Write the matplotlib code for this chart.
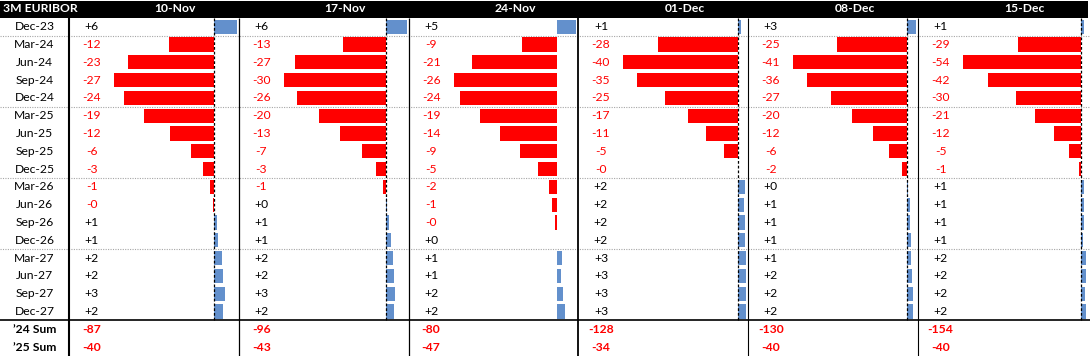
#!/usr/bin/env python3
"""
Weekly change in the 3M EURIBOR strip (bp), drawn like an Excel table with
data bars: one label column, then one panel per date with the number on the
left and the bar on the right. Saves out.png.
"""
import matplotlib
matplotlib.use("Agg")
import matplotlib.pyplot as plt

# --- data -------------------------------------------------------------------
contracts = ["Dec-23", "Mar-24", "Jun-24", "Sep-24", "Dec-24",
             "Mar-25", "Jun-25", "Sep-25", "Dec-25",
             "Mar-26", "Jun-26", "Sep-26", "Dec-26",
             "Mar-27", "Jun-27", "Sep-27", "Dec-27"]

dates = ["10-Nov", "17-Nov", "24-Nov", "01-Dec", "08-Dec", "15-Dec"]

# change in bp per contract (decimals)
chg_10nov = [6, -12.2, -23.2, -27, -24.3, -18.9, -11.9, -6.4, -3.0,
             -1.1, -0.3, 0.8, 0.9, 1.9, 2.2, 2.7, 2.2]
chg_17nov = [6, -12.6, -26.6, -30, -26.2, -19.8, -13.4, -7.0, -2.9,
             -0.9, 0.4, 0.9, 1.4, 2.0, 2.3, 2.6, 2.3]
chg_24nov = [5, -8.8, -21.4, -26, -24.4, -19.4, -14.2, -9.2, -4.8,
             -1.8, -1.2, -0.3, 0.2, 1.4, 1.2, 1.6, 2.2]
chg_01dec = [0.8, -28, -40, -35.4, -25.4, -17.4, -11.4, -5.1, -0.1,
             2.2, 1.8, 2.4, 2.4, 2.6, 2.6, 2.7, 2.7]
chg_08dec = [3.2, -25.4, -41, -36, -27.4, -20, -12.4, -6.4, -1.8,
             0.3, 1.1, 1.1, 1.4, 1.4, 1.6, 2.1, 2.1]
chg_15dec = [1.4, -28.8, -54, -42.4, -30, -20.9, -12.4, -5.4, -0.9,
             1.4, 1.4, 1.4, 0.7, 2.1, 2.0, 1.6, 2.0]

sum_labels = ["\u201924 Sum", "\u201925 Sum"]
sum_24 = [-87, -96, -80, -128, -130, -154]
sum_25 = [-40, -43, -47, -34, -40, -40]

# --- layout (pixels) --------------------------------------------------------
W, H = 1090, 356
LABEL_W = 69          # width of the contract column
PANEL_W = 169.8       # one date panel
NUM_W = 45            # number cell inside a panel, bar cell is the rest
N_ROWS = len(contracts)
RED = "#FF0000"
BLUE = "#6390CC"
FONT = ["Lato", "DejaVu Sans"]
FS = 8.7

# row units: header sits at -1, contracts at 0..16, sums at 17, 18
Y_TOP, Y_BOT = -1.5, N_ROWS + 1.5


def draw_panel(fig, ax0, k, values, show_axis=True):
    left = LABEL_W + k * PANEL_W
    bar_l = left + NUM_W
    bar_r = left + PANEL_W - 2

    # data bars: own axes so each panel scales to its own min/max like Excel
    ax = fig.add_axes([bar_l / W, 0, (bar_r - bar_l) / W, 1])
    ax.set_xlim(min(values), max(values))
    ax.set_ylim(Y_BOT, Y_TOP)
    ax.axis("off")
    cols = [RED if v < 0 else BLUE for v in values]
    ax.barh(range(N_ROWS), values, height=0.8, color=cols, linewidth=0)
    if show_axis:
        ax.vlines(0, -0.5, N_ROWS - 0.5, colors="black", lw=0.9,
                  linestyles=(0, (2.2, 1.6)), zorder=3)

    # numbers, centred in the number cell
    xc = left + NUM_W / 2
    for i, v in enumerate(values):
        ax0.text(xc, i, f"{v:+.0f}", ha="center", va="center",
                 color=RED if v < 0 else "black", fontsize=FS, family=FONT)
    for j, s in enumerate((sum_24[k], sum_25[k])):
        ax0.text(xc, N_ROWS + j, f"{s:+d}", ha="center", va="center",
                 color=RED, fontsize=FS, fontweight="bold", family=FONT)

    # header title over the bar cell
    ax0.text((bar_l + bar_r) / 2, -1, dates[k], ha="center", va="center",
             color="white", fontsize=FS, fontweight="bold", family=FONT)


def main():
    fig = plt.figure(figsize=(W / 100, H / 100), dpi=100)
    ax0 = fig.add_axes([0, 0, 1, 1])
    ax0.set_xlim(0, W)
    ax0.set_ylim(Y_BOT, Y_TOP)
    ax0.axis("off")

    # header band
    ax0.fill_between([0, W - 2], -1.45, -0.5, color="black", lw=0)
    ax0.text(3, -1, "3M EURIBOR", ha="left", va="center", color="white",
             fontsize=FS, fontweight="bold", family=FONT)

    # dotted separators between years, solid line above the sums
    for yy in (0.5, 4.5, 8.5, 12.5):
        ax0.hlines(yy, 0, W, colors="#A6A6A6", lw=0.8, linestyles=(0, (1, 1.2)))
    ax0.hlines(N_ROWS - 0.5, 0, W, colors="black", lw=1.2)

    # vertical column borders
    widths = [1.5, 0.9, 0.9, 1.3, 0.8, 0.8]
    for k, lw in enumerate(widths):
        ax0.vlines(LABEL_W + k * PANEL_W, -0.5, Y_BOT, colors="black", lw=lw)

    # row labels
    for i, name in enumerate(contracts):
        ax0.text(LABEL_W / 2, i, name, ha="center", va="center",
                 fontsize=FS, family=FONT)
    for j, name in enumerate(sum_labels):
        ax0.text(LABEL_W / 2, N_ROWS + j, name, ha="center", va="center",
                 fontsize=FS, fontweight="bold", family=FONT)

    panels = [chg_10nov, chg_17nov, chg_24nov, chg_01dec, chg_08dec, chg_15dec]
    axis_on = [True, True, False, True, True, True]
    for k, vals in enumerate(panels):
        draw_panel(fig, ax0, k, vals, show_axis=axis_on[k])

    fig.savefig("out.png", dpi=100)
    plt.close(fig)


if __name__ == "__main__":
    main()
